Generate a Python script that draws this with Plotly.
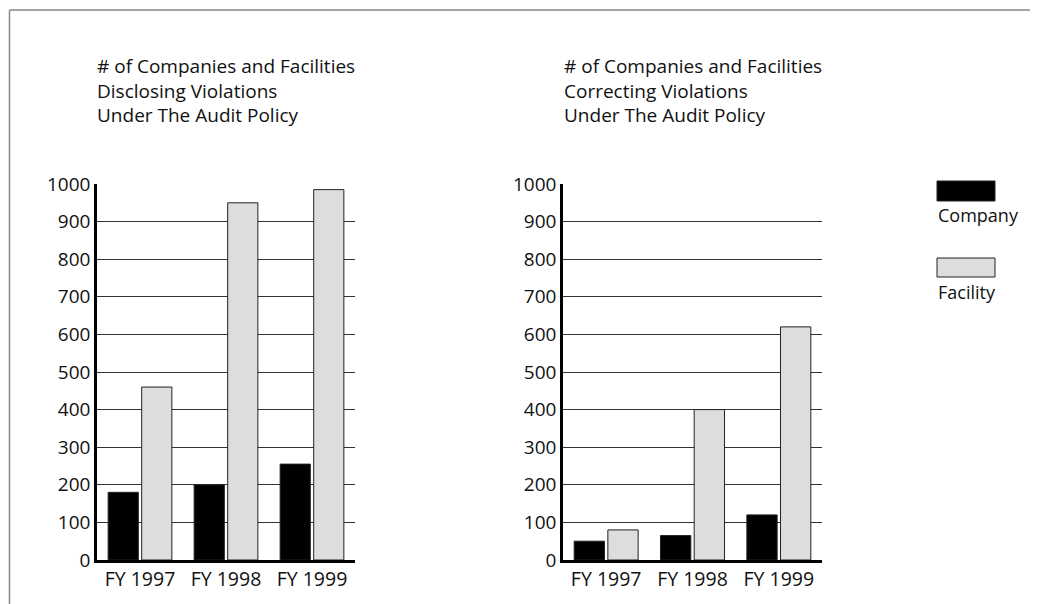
import plotly.graph_objects as go

categories = ["FY 1997", "FY 1998", "FY 1999"]
series_names = ["Company", "Facility"]
disclosing_company = [180, 200, 255]
disclosing_facility = [460, 950, 985]
correcting_company = [50, 65, 120]
correcting_facility = [80, 400, 620]
y_ticks = [0, 100, 200, 300, 400, 500, 600, 700, 800, 900, 1000]
title_left = "# of Companies and Facilities<br>Disclosing Violations<br>Under The Audit Policy"
title_right = "# of Companies and Facilities<br>Correcting Violations<br>Under The Audit Policy"

W, H = 1038, 604
OFF = 8  # page offset of the figure inside the browser window
FONT = "Open Sans"
colors = {"Company": "#000000", "Facility": "#dddddd"}

def px(x):
    return (x - OFF) / W

def py(y):
    return 1 - (y - OFF) / H

fig = go.Figure()
for name, vals in zip(series_names, [disclosing_company, disclosing_facility]):
    fig.add_trace(go.Bar(x=categories, y=vals, name=name, xaxis="x", yaxis="y",
                         marker=dict(color=colors[name], line=dict(color="#222222", width=1)),
                         showlegend=False))
for name, vals in zip(series_names, [correcting_company, correcting_facility]):
    fig.add_trace(go.Bar(x=categories, y=vals, name=name, xaxis="x2", yaxis="y2",
                         marker=dict(color=colors[name], line=dict(color="#222222", width=1)),
                         showlegend=False))

yax = dict(range=[0, 1000], tickvals=y_ticks, showgrid=True, gridcolor="#333333", gridwidth=1,
           zeroline=False, showline=True, linecolor="#000000", linewidth=2.5,
           ticks="", tickfont=dict(family=FONT, size=19, color="#111111"),
           domain=[py(560), py(184)], fixedrange=True, automargin=False)
xax = dict(showgrid=False, showline=True, linecolor="#000000", linewidth=2.5, ticks="",
           tickfont=dict(family=FONT, size=19.5, color="#111111"), range=[-0.5, 2.5],
           fixedrange=True, automargin=False)

fig.update_layout(
    width=W, height=H,
    margin=dict(l=0, r=0, t=0, b=0, autoexpand=False),
    paper_bgcolor="white", plot_bgcolor="white",
    barmode="group", bargap=0.22, bargroupgap=0.1,
    xaxis=dict(xax, domain=[px(97), px(355)], anchor="y"),
    yaxis=dict(yax, anchor="x"),
    xaxis2=dict(xax, domain=[px(563), px(822)], anchor="y2"),
    yaxis2=dict(yax, anchor="x2"),
)

# Titles
for x0, txt in [(95, title_left), (562, title_right)]:
    fig.add_annotation(x=px(x0), y=py(91), xref="paper", yref="paper", text=txt,
                       showarrow=False, xanchor="left", yanchor="middle", align="left",
                       font=dict(family=FONT, size=19, color="#111111"))

# Frame lines
fig.add_shape(type="line", xref="paper", yref="paper", x0=px(9.5), x1=px(9.5), y0=0, y1=py(10),
              line=dict(color="#888888", width=1.5))
fig.add_shape(type="line", xref="paper", yref="paper", x0=px(9.5), x1=1, y0=py(10), y1=py(10),
              line=dict(color="#888888", width=1.5))

# Legend (swatch above label)
legend_rows = [(181, 201, 215), (258, 277, 292)]
for name, (ya, yb, yt) in zip(series_names, legend_rows):
    fig.add_shape(type="rect", xref="paper", yref="paper", x0=px(937), x1=px(995),
                  y0=py(yb), y1=py(ya), fillcolor=colors[name],
                  line=dict(color="#222222", width=1))
    fig.add_annotation(x=px(936), y=py(yt), xref="paper", yref="paper", text=name,
                       showarrow=False, xanchor="left", yanchor="middle",
                       font=dict(family=FONT, size=18, color="#111111"))

fig.write_html("out.html")
